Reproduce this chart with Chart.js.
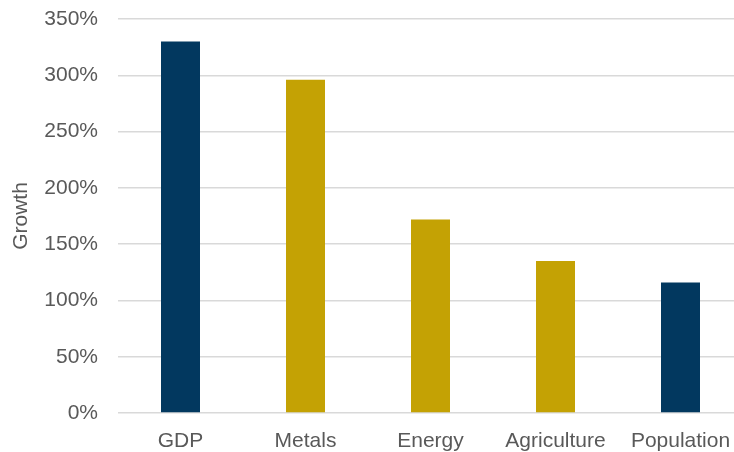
<!DOCTYPE html>
<html>
<head>
<meta charset="utf-8">
<script src="https://cdn.jsdelivr.net/npm/chart.js@4"></script>
<style>
  html, body { margin: 0; padding: 0; background: #fff; overflow: hidden; }
  .wrap { width: 760px; height: 452px; }
</style>
</head>
<body>
<div class="wrap"><canvas class="growth-chart" width="760" height="452"></canvas></div>
<script>
const categories = ["GDP", "Metals", "Energy", "Agriculture", "Population"];
const growth = [330, 296, 172, 135, 116];
const yTicks = [0, 50, 100, 150, 200, 250, 300, 350];

const navy = "#02385F";
const gold = "#C4A204";
const barColors = [navy, gold, gold, gold, navy];

const ctx = document.querySelector(".growth-chart").getContext("2d");
const config = {
  type: "bar",
  data: {
    labels: categories,
    datasets: [
      {
        label: "Growth",
        data: growth,
        backgroundColor: barColors,
        borderWidth: 0,
        barPercentage: 0.312,
        categoryPercentage: 1,
      },
    ],
  },
  options: {
    responsive: false,
    animation: false,
    layout: {
      padding: { top: 19, right: 17, left: 0, bottom: 0 },
    },
    scales: {
      x: {
        grid: { display: false, drawTicks: false },
        border: { display: false },
        ticks: {
          color: "#595959",
          padding: 16,
          maxRotation: 0,
          font: { family: "Liberation Sans, Arial", size: 21 },
        },
        afterFit: (scale) => {
          scale.height = 39;
        },
      },
      y: {
        min: 0,
        max: 350,
        afterBuildTicks: (scale) => {
          scale.ticks = yTicks.map((v) => ({ value: v }));
        },
        grid: {
          color: "#D9D9D9",
          lineWidth: 1.5,
          drawTicks: false,
        },
        border: { display: false },
        ticks: {
          color: "#595959",
          padding: 20,
          font: { family: "Liberation Sans, Arial", size: 21 },
          callback: (v) => v + "%",
        },
        title: {
          display: true,
          text: "Growth",
          color: "#595959",
          padding: { top: 9, bottom: 0 },
          font: { family: "Liberation Sans, Arial", size: 21 },
        },
        afterFit: (scale) => {
          scale.width = 118;
          // let the layout padding alone decide where the top gridline sits
          scale.paddingTop = 0;
          scale.paddingBottom = 0;
        },
      },
    },
    plugins: {
      legend: { display: false },
      tooltip: { enabled: false },
    },
  },
};
new Chart(ctx, config);
</script>
</body>
</html>
